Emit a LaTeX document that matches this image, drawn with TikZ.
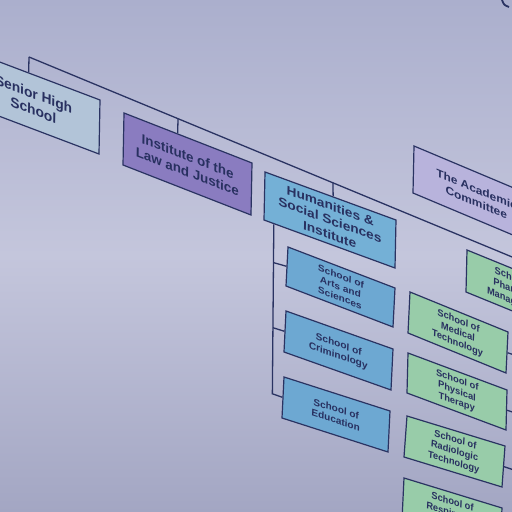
\documentclass[tikz,border=0pt]{standalone}
\usepackage{fontspec}
\setmainfont{Liberation Sans}
\usetikzlibrary{calc}
\definecolor{bgtop}{HTML}{ABAFCD}
\definecolor{bgmid}{HTML}{C4C6DC}
\definecolor{bgbot}{HTML}{A3A6C3}
\definecolor{linec}{HTML}{2A3362}
\definecolor{txtc}{HTML}{283060}
\definecolor{fsenior}{HTML}{B2C4D8}
\definecolor{finst}{HTML}{8A7CC0}
\definecolor{fhum}{HTML}{74B0D6}
\definecolor{fblue}{HTML}{6DA8D2}
\definecolor{facad}{HTML}{B8B3DC}
\definecolor{fgreen}{HTML}{98CCA9}
\tikzset{
  box/.style={draw=linec, line width=1.2pt, minimum width=100pt, minimum height=40pt,
    inner sep=0pt, align=center, transform shape, text=txtc,
    font=\fontsize{9.4}{11}\selectfont\bfseries},
  bigtext/.style={font=\fontsize{10.4}{12}\selectfont\bfseries},
  conn/.style={draw=linec, line width=1.3pt},
}
% name, TLx, TLy, TRx, TRy, BLx, BLy (image pixels, y downwards), style, text
\newcommand\skbox[9]{%
  \pgfmathsetmacro\ska{(#4-#2)/100}%
  \pgfmathsetmacro\skb{-(#5-#3)/100}%
  \pgfmathsetmacro\skc{(#2-#6)/40}%
  \pgfmathsetmacro\skd{(#7-#3)/40}%
  \pgfmathsetmacro\sktx{(#4+#6)/2}%
  \pgfmathsetmacro\skty{512-(#5+#7)/2}%
  \begin{scope}[cm={\ska,\skb,\skc,\skd,(\sktx,\skty)}]
    \node[box,#8] (#1) at (0,0) {#9};
  \end{scope}}
\begin{document}
\begin{tikzpicture}[x=1pt,y=1pt]
\useasboundingbox (0,0) rectangle (512,512);
\clip (0,0) rectangle (512,512);
\shade[top color=bgtop, bottom color=bgbot, middle color=bgmid] (0,0) rectangle (512,512);

% boxes
\skbox{senior}{-32}{50}{100}{100}{-33}{104}{fill=fsenior,bigtext}{Senior High\\School}
\skbox{inst}{124}{113}{252}{163}{123}{165}{fill=finst,bigtext}{Institute of the\\Law and Justice}
\skbox{hum}{265}{172}{396}{220}{264}{220}{fill=fhum,bigtext}{Humanities \&\\Social Sciences\\Institute}
\skbox{acad}{414}{146}{540}{199}{413}{193}{fill=facad}{The Academic\\Committee}
\skbox{arts}{288}{247}{395}{288}{286}{286}{fill=fblue}{School of\\Arts and\\Sciences}
\skbox{crim}{286}{311}{393}{349}{284}{352}{fill=fblue}{School of\\Criminology}
\skbox{edu}{284}{377}{390}{411}{282}{418}{fill=fblue}{School of\\Education}
\skbox{gtop}{467}{250}{565}{290}{466}{292}{fill=fgreen}{School of\\Pharmacy\\Management}
\skbox{med}{410}{292}{508}{332}{408}{333}{fill=fgreen}{School of\\Medical\\Technology}
\skbox{pt}{408}{353}{507}{390}{407}{393}{fill=fgreen}{School of\\Physical\\Therapy}
\skbox{rad}{407}{416}{505}{446}{404}{457}{fill=fgreen}{School of\\Radiologic\\Technology}
\skbox{resp}{404}{478}{502}{508}{402}{520}{fill=fgreen}{School of\\Respiratory\\Therapy}

% top bus
\coordinate (ls) at (29,455);
\coordinate (le) at (545,241.4);
\draw[conn] (ls) -- (le);
\coordinate (d1) at ($(ls)!0.2888!(le)$);
\coordinate (d2) at ($(ls)!0.589!(le)$);
\draw[conn] (ls) -- ($(senior.north west)!0.46!(senior.north east)$);
\draw[conn] (d1) -- ($(inst.north west)!0.42!(inst.north east)$);
\draw[conn] (d2) -- ($(hum.north west)!0.52!(hum.north east)$);

% blue trunk
\coordinate (htop) at ($(hum.south west)!0.08!(hum.south east)$);
\coordinate (tbot) at ($(edu.west)+(-10,3.5)$);
\draw[conn] (htop) -- (tbot) -- (edu.west);
\draw[conn] ($(htop)!0.226!(tbot)$) -- (arts.west);
\draw[conn] ($(htop)!0.61!(tbot)$) -- (crim.west);

% green stubs
\coordinate (g1) at ($(med.east)+(12,-4)$);
\coordinate (g2) at ($(pt.east)+(12,-4)$);
\coordinate (g3) at ($(rad.east)+(12,-4)$);
\draw[conn] (med.east) -- (g1);
\draw[conn] (pt.east) -- (g2);
\draw[conn] (rad.east) -- (g3);

% mark at top right
\draw[linec, line width=1.8pt] (502,512) .. controls (504,507) .. (509,505);
\end{tikzpicture}
\end{document}
